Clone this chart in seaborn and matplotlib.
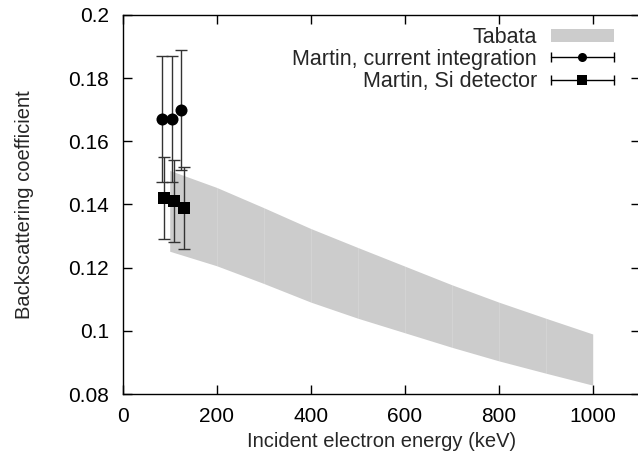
import numpy as np
import pandas as pd
import matplotlib
matplotlib.use("Agg")
import matplotlib.pyplot as plt
import seaborn as sns
from matplotlib.legend_handler import HandlerBase
from matplotlib.lines import Line2D
from matplotlib.patches import Patch

# ---- data ----
tabata_energy = [100, 200, 300, 400, 500, 600, 700, 800, 900, 1000]
tabata_upper = [0.1508, 0.1454, 0.1390, 0.1324, 0.1264, 0.1205, 0.1146, 0.1091, 0.1040, 0.0990]
tabata_lower = [0.1252, 0.1206, 0.1150, 0.1091, 0.1040, 0.0994, 0.0948, 0.0905, 0.0866, 0.0828]

ci_energy = [83, 104, 124]
ci_value = [0.167, 0.167, 0.170]
ci_err = [0.020, 0.020, 0.019]

si_energy = [88, 109, 130]
si_value = [0.142, 0.141, 0.139]
si_err = [0.013, 0.013, 0.013]

xticks = [0, 200, 400, 600, 800, 1000]
yticks = [0.08, 0.1, 0.12, 0.14, 0.16, 0.18, 0.2]
ytick_labels = ["0.08", "0.1", "0.12", "0.14", "0.16", "0.18", "0.2"]

FS = 15
FS_LAB = 14.5
FS_LEG = 15.5

sns.set_style("ticks")
plt.rcParams["font.family"] = ["Liberation Sans", "DejaVu Sans"]
plt.rcParams["font.size"] = FS

fig = plt.figure(figsize=(6.38, 4.59), dpi=100)
ax = fig.add_axes([122.7 / 638, 1 - 394 / 459, (639.7 - 122.7) / 638, (394 - 15) / 459])

band_color = "#cccccc"
# Tabata band, drawn per interval
for i in range(len(tabata_energy) - 1):
    ax.fill_between(tabata_energy[i:i + 2], tabata_lower[i:i + 2], tabata_upper[i:i + 2],
                    color=band_color, lw=0, antialiased=True, zorder=1)

# error bars
ax.errorbar(ci_energy, ci_value, yerr=ci_err, fmt="none", ecolor="#333333",
            elinewidth=1, capsize=4.5, capthick=1, zorder=2)
ax.errorbar(si_energy, si_value, yerr=si_err, fmt="none", ecolor="#333333",
            elinewidth=1, capsize=4.5, capthick=1, zorder=2)

df_ci = pd.DataFrame({"E": ci_energy, "v": ci_value})
df_si = pd.DataFrame({"E": si_energy, "v": si_value})
sns.scatterplot(data=df_ci, x="E", y="v", marker="o", s=75, color="black",
                edgecolor="black", linewidth=0, ax=ax, zorder=3)
sns.scatterplot(data=df_si, x="E", y="v", marker="s", s=75, color="black",
                edgecolor="black", linewidth=0, ax=ax, zorder=3)

ax.set_xlim(0, 1100)
ax.set_ylim(0.08, 0.2)
ax.set_xticks(xticks)
ax.set_yticks(yticks)
ax.set_yticklabels(ytick_labels)
ax.tick_params(direction="in", length=6.5, width=1, top=True, right=True,
               labelsize=FS, colors="black")
ax.tick_params(axis="x", pad=9)
ax.tick_params(axis="y", pad=10)
for s in ax.spines.values():
    s.set_linewidth(1)
    s.set_color("black")

ax.set_xlabel("Incident electron energy (keV)", fontsize=FS_LAB)
ax.set_ylabel("Backscattering coefficient", fontsize=FS_LAB)
ax.xaxis.set_label_coords(0.5, -0.099)
ax.yaxis.set_label_coords(-0.172, 0.5)


class ErrHandler(HandlerBase):
    def __init__(self, marker):
        super().__init__()
        self.marker = marker

    def create_artists(self, legend, orig_handle, xdescent, ydescent, width,
                       height, fontsize, trans):
        y = height / 2 - ydescent
        x0 = -xdescent
        x1 = x0 + width
        line = Line2D([x0, x1], [y, y], color="black", lw=1)
        caps = Line2D([x0, x1], [y, y], ls="none", marker="|", ms=7, mew=1, color="black")
        mk = Line2D([(x0 + x1) / 2], [y], ls="none", marker=self.marker, ms=6.5,
                    color="black", mew=0)
        for a in (line, caps, mk):
            a.set_transform(trans)
        return [line, caps, mk]


h_tab = Patch(facecolor=band_color, edgecolor="none")
h_ci = Line2D([], [])
h_si = Line2D([], [])
leg = ax.legend([h_tab, h_ci, h_si],
                ["Tabata", "Martin, current integration", "Martin, Si detector"],
                handler_map={h_ci: ErrHandler("o"), h_si: ErrHandler("s")},
                loc="upper right", bbox_to_anchor=(613.5 / 638, 1 - 27 / 459),
                bbox_transform=fig.transFigure, frameon=False, markerfirst=False,
                handlelength=2.9, handleheight=0.55, handletextpad=0.65,
                labelspacing=0.05, borderpad=0, borderaxespad=0, fontsize=FS_LEG)

fig.savefig("out.png", dpi=100)
